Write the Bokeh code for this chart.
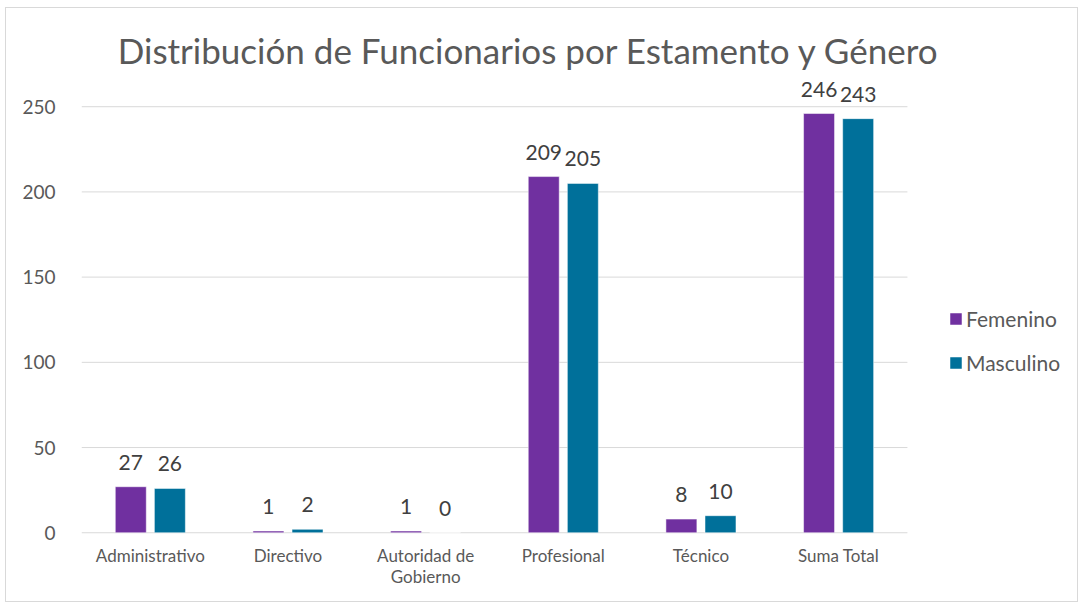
import numpy as np
from bokeh.plotting import figure
from bokeh.models import ColumnDataSource, Range1d, LabelSet, Label, Legend, LegendItem
from bokeh.core.properties import value
from bokeh.embed import file_html
from bokeh.resources import INLINE

categories = ["Administrativo", "Directivo", "Autoridad de Gobierno", "Profesional", "Técnico", "Suma Total"]
cat_line1 = ["Administrativo", "Directivo", "Autoridad de", "Profesional", "Técnico", "Suma Total"]
cat_line2 = ["", "", "Gobierno", "", "", ""]
femenino = [27, 1, 1, 209, 8, 246]
masculino = [26, 2, 0, 205, 10, 243]
series = ["Femenino", "Masculino"]
colors = ["#7030A0", "#00709A"]
title_text = "Distribución de Funcionarios por Estamento y Género"
y_ticks = [0, 50, 100, 150, 200, 250]

FONT = "Lato"
TXT = "#595959"

n = len(categories)
xc = np.arange(n) + 0.5
off = 0.142
w = 0.225

src = ColumnDataSource(dict(xc=xc, xf=xc - off, xm=xc + off, fem=femenino, mas=masculino,
                            fem_s=[str(v) for v in femenino], mas_s=[str(v) for v in masculino],
                            l1=cat_line1, l2=cat_line2, zero=[0] * n))
grid = ColumnDataSource(dict(y=y_ticks, x0=[0] * len(y_ticks), x1=[n] * len(y_ticks)))

p = figure(x_range=Range1d(0, 7.25), y_range=(-38, 300),
           width=1073, height=595, output_backend="svg", toolbar_location=None,
           min_border_left=75, min_border_right=0, min_border_top=13, min_border_bottom=6,
           styles={"border": "1px solid #D9D9D9", "margin-left": "5px", "margin-top": "7px"})

p.segment(x0="x0", x1="x1", y0="y", y1="y", source=grid, line_color="#D9D9D9", line_width=1)

r1 = p.vbar(x="xf", top="fem", width=w, source=src,
            fill_color=colors[0], line_color="white", line_width=0.5)
r2 = p.vbar(x="xm", top="mas", width=w, source=src,
            fill_color=colors[1], line_color="white", line_width=0.5)

for col, lab, xcol in (("fem", "fem_s", "xf"), ("mas", "mas_s", "xm")):
    p.add_layout(LabelSet(x=xcol, y=col, text=lab, source=src,
                          text_align="center", text_baseline="bottom", y_offset=17,
                          text_font=value(FONT), text_font_size="21px", text_color="#404040"))

for lab, yo in (("l1", -23), ("l2", -44)):
    p.add_layout(LabelSet(x="xc", y="zero", text=lab, source=src, y_offset=yo,
                          text_align="center", text_baseline="middle",
                          text_font=value(FONT), text_font_size="17px", text_color=TXT))

p.add_layout(Label(x=3.25, y=283, text=title_text, text_align="center", text_baseline="middle",
                   text_font=FONT, text_font_size="35px", text_color=TXT))

legend = Legend(items=[LegendItem(label=series[0], renderers=[r1]),
                       LegendItem(label=series[1], renderers=[r2])],
                location=(867, 222), orientation="vertical",
                glyph_width=15, glyph_height=15, spacing=19, padding=0, margin=0,
                label_text_font=FONT, label_text_font_size="21px", label_text_color=TXT,
                label_standoff=3, border_line_color=None, background_fill_alpha=0)
p.add_layout(legend)

p.xaxis.visible = False
p.xgrid.visible = False
p.ygrid.visible = False
p.yaxis.ticker = y_ticks
p.yaxis.axis_line_color = None
p.yaxis.major_tick_line_color = None
p.yaxis.minor_tick_line_color = None
p.yaxis.major_tick_out = 0
p.yaxis.major_tick_in = 0
p.yaxis.major_label_text_font = FONT
p.yaxis.major_label_text_font_size = "19px"
p.yaxis.major_label_text_color = TXT
p.yaxis.major_label_standoff = 26

p.outline_line_color = None
p.background_fill_color = "white"
p.border_fill_color = "white"

open("out.html", "w").write(file_html(p, INLINE))
